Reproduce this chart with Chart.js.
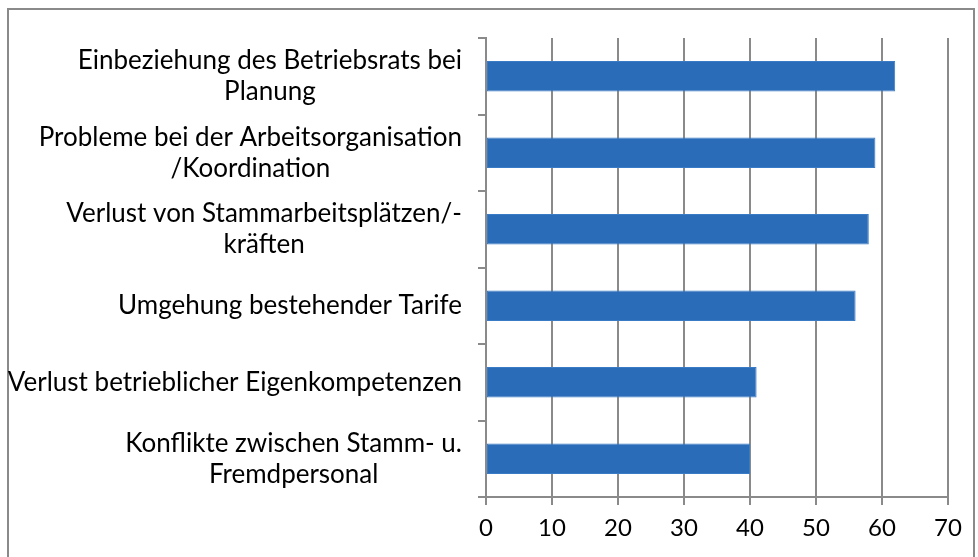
<!DOCTYPE html>
<html>
<head>
<meta charset="utf-8">
<script src="https://cdn.jsdelivr.net/npm/chart.js@4.4.1/dist/chart.umd.min.js"></script>
<style>
    html, body { margin: 0; background: #fff; overflow: hidden; height: 557px; }
    #wrap { position: relative; width: 978px; height: 557px; overflow: hidden; }
    #frame {
        position: absolute; left: 7px; top: 8px; width: 968px; height: 2000px;
        border-left: 2px solid #8a8a8a; border-top: 2px solid #8a8a8a; border-right: 2px solid #8a8a8a;
        box-sizing: border-box;
    }
    canvas { position: absolute; left: 0; top: 0; }
</style>
</head>
<body>
<div id="wrap">
    <div id="frame"></div>
    <canvas id="barChart" width="978" height="557"></canvas>
</div>
<script>
// DADOS
const categorias = [
    ['Einbeziehung des Betriebsrats bei', 'Planung'],
    ['Probleme bei der Arbeitsorganisation', '/Koordination'],
    ['Verlust von Stammarbeitsplätzen/-', 'kräften'],
    ['Umgehung bestehender Tarife'],
    ['Verlust betrieblicher Eigenkompetenzen'],
    ['Konflikte zwischen Stamm- u.', 'Fremdpersonal']
];
const valores = [62, 59, 58, 56, 41, 40];
const eixoMax = 70;
const eixoPasso = 10;

const fonte = 'Lato, "Open Sans", sans-serif';
const cinza = '#8a8a8a';

// rótulos das categorias: bloco alinhado à direita, linhas centradas entre si
const rotulosCategorias = {
    id: 'rotulosCategorias',
    afterDraw(chart) {
        const ctx = chart.ctx;
        const y = chart.scales.y;
        const direita = 462;
        const alturaLinha = 31;
        ctx.save();
        ctx.font = '26px ' + fonte;
        ctx.fillStyle = '#000';
        ctx.textAlign = 'center';
        ctx.textBaseline = 'middle';
        categorias.forEach((linhas, i) => {
            const yc = y.getPixelForTick(i);
            const largura = Math.max(...linhas.map(l => ctx.measureText(l).width));
            const xc = direita - largura / 2;
            const y0 = yc - (linhas.length - 1) * alturaLinha / 2;
            linhas.forEach((l, k) => ctx.fillText(l, xc, y0 + k * alturaLinha));
        });
        ctx.restore();
    }
};

// GRÁFICO DE BARRAS
const barChart = new Chart(
    document.getElementById('barChart'),
    {
        type: 'bar',
        data: {
            labels: categorias.map(c => c.join(' ')),
            datasets: [{
                data: valores,
                backgroundColor: '#2b6cb8',
                borderColor: '#3a7bc6',
                borderWidth: 1,
                borderSkipped: false,
                barPercentage: 0.4,
                categoryPercentage: 1
            }]
        },
        options: {
            indexAxis: 'y',
            responsive: false,
            animation: false,
            layout: { padding: { top: 38, right: 30, left: 0, bottom: 0 } },
            plugins: { legend: { display: false }, tooltip: { enabled: false } },
            scales: {
                x: {
                    min: 0,
                    max: eixoMax,
                    ticks: {
                        stepSize: eixoPasso,
                        color: '#000',
                        font: { family: fonte, size: 24 },
                        padding: 9
                    },
                    grid: { color: cinza, lineWidth: 2, tickLength: 8 },
                    border: { color: cinza, width: 2 },
                    afterFit(scale) { scale.height = 60; }
                },
                y: {
                    ticks: { display: false },
                    grid: { drawOnChartArea: false, color: cinza, lineWidth: 2, tickLength: 8, offset: true },
                    border: { color: cinza, width: 2 },
                    afterFit(scale) { scale.width = 486; }
                }
            }
        },
        plugins: [rotulosCategorias]
    }
);
</script>
</body>
</html>
